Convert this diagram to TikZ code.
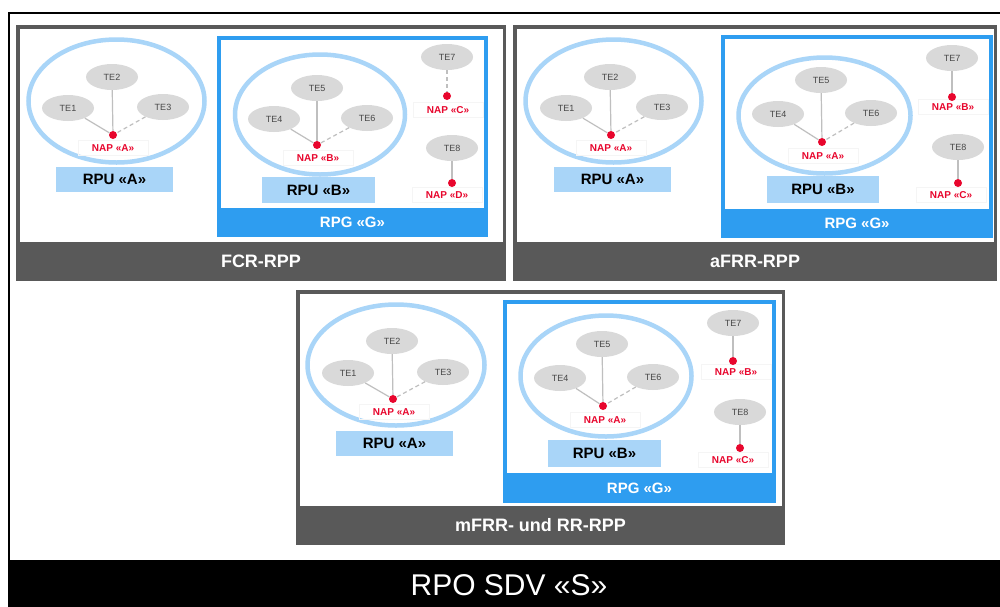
\documentclass[tikz,border=0pt]{standalone}
\usepackage{fontspec}
\setmainfont{Liberation Sans}
\usepackage{xcolor}
\usepackage{tikz}
\usetikzlibrary{shapes.geometric}
\definecolor{panelgray}{HTML}{595959}
\definecolor{rpublue}{HTML}{A9D5F8}
\definecolor{rpgblue}{HTML}{2E9DF0}
\definecolor{tegray}{HTML}{D9D9D9}
\definecolor{napred}{HTML}{E8062D}
\definecolor{linegray}{HTML}{BFBFBF}
\tikzstyle{panel} = [draw=panelgray, line width=3.5, fill=white, inner sep=0]
\tikzstyle{panelbar} = [fill=panelgray, text=white, inner sep=0, font=\bfseries\fontsize{18}{20}\selectfont]
\tikzstyle{rpg} = [fill=rpgblue, inner sep=0]
\tikzstyle{rpgin} = [fill=white, inner sep=0]
\tikzstyle{rpglabel} = [text=white, inner sep=0, font=\bfseries\fontsize{15}{17}\selectfont]
\tikzstyle{rpu} = [ellipse, draw=rpublue, line width=4.5, inner sep=0]
\tikzstyle{rpubox} = [fill=rpublue, minimum width=117, minimum height=25, inner sep=0, font=\bfseries\fontsize{15}{17}\selectfont]
\tikzstyle{te} = [ellipse, fill=tegray, minimum width=52, minimum height=26, inner sep=0, text=black!72, font=\fontsize{9}{10}\selectfont]
\tikzstyle{nap} = [circle, fill=napred, minimum size=8, inner sep=0]
\tikzstyle{naplabel} = [draw=black!4, minimum width=70, minimum height=15, inner sep=0, text=napred, font=\bfseries\fontsize{10}{11}\selectfont]
\tikzstyle{link} = [draw=linegray, line width=1.2]
\tikzstyle{linkdash} = [draw=linegray, line width=1.2, dash pattern=on 4pt off 3pt]

\begin{document}
\begin{tikzpicture}[x=1pt, y=-1pt]
\useasboundingbox (0,0) rectangle (1000,606);
\fill[white] (0,0) rectangle (1000,606);
% outer frame and RPO bar
\draw[line width=2.5] (9,606) -- (9,13) -- (1010,13);
\fill[black] (7.75,560) rectangle (1010,610);
\node[text=white, inner sep=0, font=\fontsize{30}{32}\selectfont] (sdv) at (509,585) {RPO SDV «S»};

% FCR-RPP
\node[panel, minimum width=486.5, minimum height=252.5] (fcr) at (261,153) {};
\node[panelbar, minimum width=490, minimum height=39] (fcrbar) at (261,261.5) {FCR-RPP};
\node[rpu, minimum width=176, minimum height=123] (frpua) at (116.5,101) {};
\node[te] (fte1) at (68,108) {TE1};
\node[te] (fte2) at (112,77) {TE2};
\node[te] (fte3) at (163,107) {TE3};
\node[naplabel] (fnapal) at (113,148) {NAP «A»};
\node[nap] (fnapa) at (113,135) {};
\draw[link] (fte1) -- (fnapa);
\draw[link] (fte2) -- (fnapa);
\draw[linkdash] (fte3) -- (fnapa);
\node[rpubox] (fboxa) at (114.5,179.5) {RPU «A»};
\node[rpg, minimum width=271, minimum height=201] (frpg) at (352.5,136.5) {};
\node[rpgin, minimum width=263, minimum height=168] (frpgin) at (352.5,124) {};
\node[rpglabel] (frpgl) at (352.5,222.5) {RPG «G»};
\node[rpu, minimum width=170, minimum height=120] (frpub) at (320,114.5) {};
\node[te] (fte4) at (274,119) {TE4};
\node[te] (fte5) at (317,88) {TE5};
\node[te] (fte6) at (367,118) {TE6};
\node[naplabel] (fnapbl) at (318,158) {NAP «B»};
\node[nap] (fnapb) at (317,145) {};
\draw[link] (fte4) -- (fnapb);
\draw[link] (fte5) -- (fnapb);
\draw[linkdash] (fte6) -- (fnapb);
\node[rpubox, minimum width=113, minimum height=26] (fboxb) at (318.5,190) {RPU «B»};
\node[te] (fte7) at (447,57) {TE7};
\node[naplabel] (fnapcl) at (448,110) {NAP «C»};
\node[nap] (fnapc) at (447,96) {};
\draw[linkdash] (fte7) -- (fnapc);
\node[te] (fte8) at (452,148) {TE8};
\node[naplabel] (fnapdl) at (447,195) {NAP «D»};
\node[nap] (fnapd) at (452,183) {};
\draw[link] (fte8) -- (fnapd);

% aFRR-RPP
\node[panel, minimum width=480.5, minimum height=252.5] (afrr) at (755,153) {};
\node[panelbar, minimum width=484, minimum height=39] (afrrbar) at (755,261.5) {aFRR-RPP};
\node[rpu, minimum width=176, minimum height=123] (arpua) at (613.5,101) {};
\node[te] (ate1) at (566,108) {TE1};
\node[te] (ate2) at (610,77) {TE2};
\node[te] (ate3) at (662,107) {TE3};
\node[naplabel] (anapal) at (611,148) {NAP «A»};
\node[nap] (anapa) at (611,135) {};
\draw[link] (ate1) -- (anapa);
\draw[link] (ate2) -- (anapa);
\draw[linkdash] (ate3) -- (anapa);
\node[rpubox] (aboxa) at (612.5,179.5) {RPU «A»};
\node[rpg, minimum width=272, minimum height=203] (arpg) at (857,136.5) {};
\node[rpgin, minimum width=264, minimum height=170] (arpgin) at (857,124) {};
\node[rpglabel] (arpgl) at (857,223.5) {RPG «G»};
\node[rpu, minimum width=172, minimum height=116] (arpub) at (824.5,115.5) {};
\node[te] (ate4) at (778,114) {TE4};
\node[te] (ate5) at (821,80) {TE5};
\node[te] (ate6) at (871,113) {TE6};
\node[naplabel] (anapbl) at (823,156) {NAP «A»};
\node[nap] (anapb) at (822,142) {};
\draw[link] (ate4) -- (anapb);
\draw[link] (ate5) -- (anapb);
\draw[linkdash] (ate6) -- (anapb);
\node[rpubox, minimum width=112, minimum height=27] (aboxb) at (823,189.5) {RPU «B»};
\node[te] (ate7) at (952,58) {TE7};
\node[naplabel] (anapcl) at (953,107) {NAP «B»};
\node[nap] (anapc) at (952,97) {};
\draw[link] (ate7) -- (anapc);
\node[te] (ate8) at (958,147) {TE8};
\node[naplabel] (anapdl) at (951,195) {NAP «C»};
\node[nap] (anapd) at (958,183) {};
\draw[link] (ate8) -- (anapd);

% mFRR- und RR-RPP
\node[panel, minimum width=485.5, minimum height=251.5] (mrr) at (540.5,417.5) {};
\node[panelbar, minimum width=489, minimum height=39] (mrrbar) at (540.5,525.5) {mFRR- und RR-RPP};
\node[rpu, minimum width=177, minimum height=121] (mrpua) at (396,365) {};
\node[te] (mte1) at (348,373) {TE1};
\node[te] (mte2) at (392,341) {TE2};
\node[te] (mte3) at (443,372) {TE3};
\node[naplabel] (mnapal) at (394,412) {NAP «A»};
\node[nap] (mnapa) at (393,399) {};
\draw[link] (mte1) -- (mnapa);
\draw[link] (mte2) -- (mnapa);
\draw[linkdash] (mte3) -- (mnapa);
\node[rpubox] (mboxa) at (394.5,443.5) {RPU «A»};
\node[rpg, minimum width=273, minimum height=203] (mrpg) at (639.5,401.5) {};
\node[rpgin, minimum width=265, minimum height=169] (mrpgin) at (639.5,388.5) {};
\node[rpglabel] (mrpgl) at (639.5,488) {RPG «G»};
\node[rpu, minimum width=171, minimum height=121] (mrpub) at (606,376) {};
\node[te] (mte4) at (560,378) {TE4};
\node[te] (mte5) at (602,344) {TE5};
\node[te] (mte6) at (653,377) {TE6};
\node[naplabel] (mnapbl) at (605,420) {NAP «A»};
\node[nap] (mnapb) at (603,406) {};
\draw[link] (mte4) -- (mnapb);
\draw[link] (mte5) -- (mnapb);
\draw[linkdash] (mte6) -- (mnapb);
\node[rpubox, minimum width=113, minimum height=27] (mboxb) at (604.5,453.5) {RPU «B»};
\node[te] (mte7) at (733,323) {TE7};
\node[naplabel] (mnapcl) at (736,372) {NAP «B»};
\node[nap] (mnapc) at (733,361) {};
\draw[link] (mte7) -- (mnapc);
\node[te] (mte8) at (740,412) {TE8};
\node[naplabel] (mnapdl) at (733,460) {NAP «C»};
\node[nap] (mnapd) at (740,448) {};
\draw[link] (mte8) -- (mnapd);
\end{tikzpicture}
\end{document}
